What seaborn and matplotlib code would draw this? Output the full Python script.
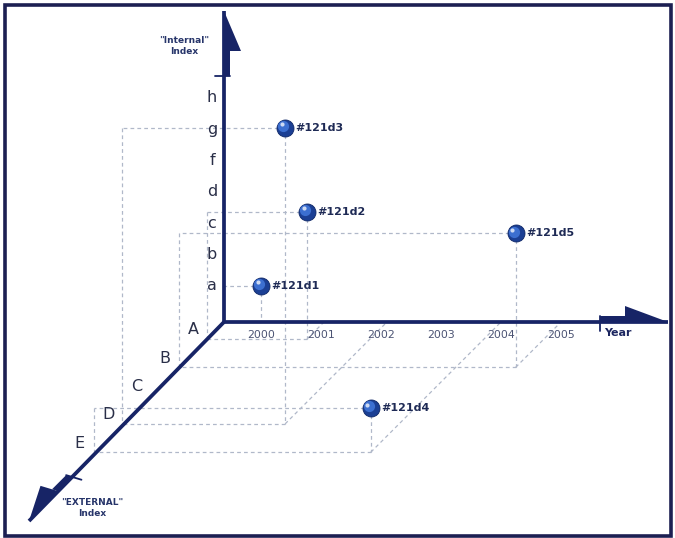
import numpy as np
import pandas as pd
import matplotlib
matplotlib.use("Agg")
import matplotlib.pyplot as plt
import matplotlib.transforms as mtransforms
from matplotlib.patches import Polygon, Rectangle
import seaborn as sns

# --- data (year, "internal" level, "external" level) ---
point_names = ["#121d1", "#121d2", "#121d3", "#121d4", "#121d5"]
point_year = [2000.0, 2001.05, 2002.1, 2004.0, 2005.0]
point_internal = [1.0, 3.9, 9.3, 1.25, 4.12]
point_external = [0.4, 1.0, 4.0, 5.0, 2.0]

years = [2000, 2001, 2002, 2003, 2004, 2005]
internal_labels = ["a", "b", "c", "d", "f", "g", "h"]
internal_levels = [1, 2, 3, 4, 5, 6, 7]
external_labels = ["A", "B", "C", "D", "E"]
external_levels = [1, 2, 3, 4, 5]

# oblique projection scale (pixels per unit)
YEAR_STEP, YEAR_START = 60, 37
INT_STEP, INT_START = 31.3, 5
EXT_STEP, EXT_START = 28.3, -11.3

NAVY = "#172466"
DASH = "#b0b8c9"


def year_px(v):
    return YEAR_START + YEAR_STEP * (np.asarray(v, dtype=float) - 2000)


def int_px(v):
    return INT_START + INT_STEP * np.asarray(v, dtype=float)


def ext_px(v):
    return EXT_START + EXT_STEP * np.asarray(v, dtype=float)


def proj(x, h, d):
    # year to the right, internal up, external towards the viewer at 45 degrees
    return x - d, h - d


def draw_arrow(ax, tip, u, s, head_len=40, head_w=17, band_len=25, band_w=6, tick=9):
    tip, u, s = np.array(tip, float), np.array(u, float), np.array(s, float)
    u, s = u / np.linalg.norm(u), s / np.linalg.norm(s)
    ax.plot([0, tip[0]], [0, tip[1]], color=NAVY, lw=2.7, solid_capstyle="butt", zorder=3)
    b0 = tip - head_len * u
    b1 = tip - (head_len + band_len) * u
    ax.add_patch(Polygon([tip, b0, b0 + head_w * s], closed=True, color=NAVY, lw=0, zorder=3))
    ax.add_patch(Polygon([b0, b1, b1 + band_w * s, b0 + band_w * s], closed=True,
                         color=NAVY, lw=0, zorder=3))
    t = np.array([b1 + band_w * s, b1 - tick * s])
    ax.plot(t[:, 0], t[:, 1], color=NAVY, lw=1.3, zorder=3)


sns.set_theme(style="white")
plt.rcParams["font.family"] = ["DejaVu Sans"]

fig = plt.figure(figsize=(6.75, 5.38), dpi=100)
ax = fig.add_axes([0, 0, 1, 1])
ax.set_xlim(-224, 451)
ax.set_ylim(-216, 322)
ax.set_axis_off()

# frame
ax.add_patch(Rectangle((-219, -214), 666, 531, fill=False, edgecolor="#1c1f52", lw=2.6, zorder=6))

# dashed guide lines for each point
for yr, it, ex in zip(point_year, point_internal, point_external):
    x, h, d = year_px(yr), int_px(it), ext_px(ex)
    segs = [
        ((x, h, d), (x, 0, d)),   # drop to the floor
        ((x, 0, d), (0, 0, d)),   # floor -> external axis
        ((x, 0, d), (x, 0, 0)),   # floor -> year axis
        ((x, h, d), (0, h, d)),   # level -> wall
        ((0, h, d), (0, 0, d)),   # wall drop
    ]
    for p0, p1 in segs:
        a, b = proj(*p0), proj(*p1)
        ax.plot([a[0], b[0]], [a[1], b[1]], color=DASH, lw=0.9, dashes=(3, 2.5), zorder=1)

# axes with half arrow heads
draw_arrow(ax, (0, 311), (0, 1), (1, 0))
draw_arrow(ax, (444, 0), (1, 0), (0, 1), head_len=43, head_w=16)
draw_arrow(ax, (-195, -199), (-1, -1), (-1, 0.3), head_len=42, head_w=19, band_len=20, band_w=7)

# tick labels
for lab, lv in zip(internal_labels, internal_levels):
    ax.text(-12, int_px(lv), lab, ha="center", va="center", fontsize=11.5, color="#2a2f48", zorder=5)
for yr in years:
    ax.text(year_px(yr), -13, str(yr), ha="center", va="center", fontsize=7.8,
            color="#4b5373", zorder=5)
for lab, lv in zip(external_labels, external_levels):
    ex, ey = proj(0, 0, ext_px(lv))
    ax.text(ex - 14, ey + 9, lab, ha="center", va="center", fontsize=11.5, color="#2a2f48", zorder=5)

# axis titles
ax.text(-40, 276, '"Internal"\nIndex', ha="center", va="center", fontsize=6.5,
        fontweight="bold", color="#27356a", linespacing=1.25, zorder=5)
ax.text(-132, -186, '"EXTERNAL"\nIndex', ha="center", va="center", fontsize=6.5,
        fontweight="bold", color="#27356a", linespacing=1.25, zorder=5)
ax.text(380, -11, "Year", ha="left", va="center", fontsize=8, fontweight="bold",
        color="#1c2660", zorder=5)

# points as shaded spheres
px, py = proj(year_px(point_year), int_px(point_internal), ext_px(point_external))
df = pd.DataFrame({"x": px, "y": py, "name": point_names})
sns.scatterplot(data=df, x="x", y="y", s=150, color="#1b3f94", edgecolor="#0f2766",
                linewidth=0.6, ax=ax, zorder=4, legend=False)
shift1 = ax.transData + mtransforms.ScaledTranslation(-1.2 / 72, 1.2 / 72, fig.dpi_scale_trans)
shift2 = ax.transData + mtransforms.ScaledTranslation(-2.5 / 72, 2.5 / 72, fig.dpi_scale_trans)
ax.scatter(df["x"], df["y"], s=65, color="#3c6fd0", lw=0, transform=shift1, zorder=4)
ax.scatter(df["x"], df["y"], s=9, color="white", alpha=0.75, lw=0, transform=shift2, zorder=4)
for _, r in df.iterrows():
    ax.annotate(r["name"], (r["x"], r["y"]), xytext=(7.5, 0), textcoords="offset points",
                ha="left", va="center", fontsize=8, fontweight="bold", color="#1e2a55", zorder=5)

ax.set_xlabel("")
ax.set_ylabel("")
fig.savefig("out.png", dpi=100, facecolor="white")
